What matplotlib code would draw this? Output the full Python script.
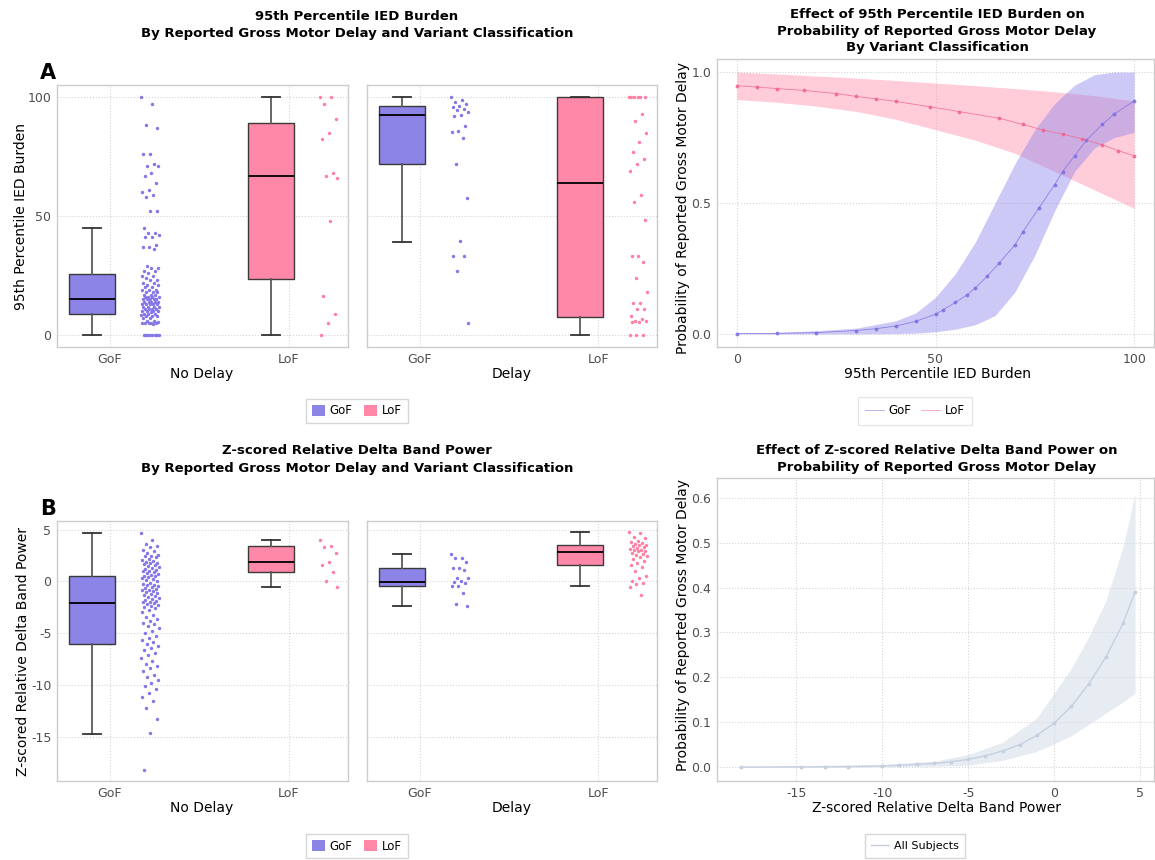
import numpy as np
import matplotlib
matplotlib.use("Agg")
import matplotlib.pyplot as plt
from matplotlib.patches import Patch
from matplotlib.lines import Line2D

W, H = 1155, 860

# ---------------- data ----------------
variants = ["GoF", "LoF"]
delay_groups = ["No Delay", "Delay"]

# box stats: [low whisker, q1, median, q3, high whisker]
ied_box_nodelay_gof = [0, 9, 15, 25.6, 45]
ied_box_nodelay_lof = [0, 23.7, 67, 89, 100]
ied_box_delay_gof = [39.2, 72, 92.4, 96.1, 100]
ied_box_delay_lof = [0, 7.7, 64, 100, 100]

delta_box_nodelay_gof = [-14.75, -6.03, -2.04, 0.53, 4.65]
delta_box_nodelay_lof = [-0.5, 0.88, 1.88, 3.39, 3.97]
delta_box_delay_gof = [-2.37, -0.4, -0.05, 1.34, 2.69]
delta_box_delay_lof = [-0.4, 1.62, 2.88, 3.49, 4.74]

# individual subjects
ied_nodelay_gof = [100, 97, 88, 87, 76, 76, 72, 71, 71, 68, 67, 64, 61, 60, 59, 58, 52, 52,
                   45, 43, 43, 42, 41, 41, 38, 37, 37, 36, 29, 28, 28, 27, 27, 26, 25, 25,
                   24, 23, 23, 22, 22, 21, 21, 20, 20, 19, 19, 19, 18, 18, 18, 17, 17, 17,
                   16, 16, 16, 16, 15, 15, 15, 15, 15, 14, 14, 14, 14, 14, 13, 13, 13, 13,
                   13, 12, 12, 12, 12, 11, 11, 11, 11, 10, 10, 10, 10, 9.5, 9, 9, 9, 8.5,
                   8, 8, 8, 7, 7, 6, 6, 5.5, 5, 5, 5, 5, 5, 4.5, 0, 0, 0, 0, 0, 0, 0, 0, 0, 0]
ied_nodelay_lof = [100, 100, 97, 90.7, 85, 82.3, 68, 66.6, 65.9, 48, 16.3, 9, 5, 0]
ied_delay_gof = [100, 98.6, 97.8, 97.2, 96.3, 95.8, 94.9, 94.4, 93.5, 92.6, 92.1, 87.6,
                 85.8, 85.1, 82.6, 71.9, 57.6, 39.3, 33.4, 33.2, 26.9, 5.2]
ied_delay_lof = [100, 100, 100, 100, 100, 100, 93, 90, 85, 81, 77, 74, 72, 69, 59, 56,
                 48.5, 33, 33, 30.6, 24, 18, 13.3, 13.3, 11, 11, 8, 6.6, 6, 6, 5.6, 5.5, 0, 0, 0]

delta_nodelay_gof = [4.65, 4.0, 3.6, 3.4, 3.3, 3.0, 2.9, 2.8, 2.6, 2.5, 2.5, 2.4, 2.2, 2.1,
                     2.0, 1.9, 1.8, 1.8, 1.7, 1.6, 1.5, 1.4, 1.3, 1.2, 1.1, 1.0, 1.0, 0.9,
                     0.8, 0.7, 0.6, 0.5, 0.5, 0.4, 0.3, 0.2, 0.1, 0.0, -0.1, -0.2, -0.3,
                     -0.3, -0.4, -0.5, -0.6, -0.7, -0.8, -0.8, -0.9, -1.0, -1.1, -1.2, -1.3,
                     -1.4, -1.5, -1.6, -1.7, -1.8, -1.9, -2.0, -2.0, -2.1, -2.2, -2.3, -2.4,
                     -2.5, -2.6, -2.8, -3.0, -3.2, -3.4, -3.6, -3.8, -4.0, -4.1, -4.3, -4.5,
                     -4.8, -5.0, -5.3, -5.5, -5.7, -5.9, -6.0, -6.2, -6.4, -6.6, -6.9, -7.1,
                     -7.4, -7.7, -8.0, -8.2, -8.4, -8.7, -9.0, -9.2, -9.5, -9.8, -10.1,
                     -10.4, -10.8, -11.2, -11.6, -12.2, -13.3, -14.7, -18.2]
delta_nodelay_lof = [4.04, 3.42, 3.3, 2.78, 1.88, 1.62, 0.92, 0.05, -0.53]
delta_delay_gof = [2.69, 2.3, 2.28, 1.9, 1.35, 1.3, 1.15, 0.35, 0.3, 0.0, -0.05, -0.1,
                   -0.4, -0.45, -1.15, -2.15, -2.35]
delta_delay_lof = [4.74, 4.7, 4.3, 4.2, 3.9, 3.8, 3.7, 3.6, 3.5, 3.5, 3.4, 3.3, 3.2, 3.1,
                   3.0, 3.0, 2.9, 2.9, 2.8, 2.7, 2.6, 2.5, 2.4, 2.2, 2.0, 1.8, 1.6, 1.4,
                   1.0, 0.5, 0.3, 0.0, -0.1, -0.2, -0.5, -1.35]

# fitted probability curves
ied_gof_x = [0, 10, 20, 30, 35, 40, 45, 50, 52, 55, 58, 60, 63, 66, 70, 72, 76, 80, 82,
             85, 88, 92, 95, 100]
ied_gof_p = [0.001, 0.002, 0.005, 0.013, 0.02, 0.03, 0.048, 0.075, 0.093, 0.12, 0.15,
             0.175, 0.22, 0.27, 0.34, 0.39, 0.48, 0.57, 0.62, 0.68, 0.74, 0.80, 0.84, 0.89]
ied_gof_band_x = [0, 10, 20, 30, 40, 45, 50, 55, 60, 65, 70, 75, 80, 85, 90, 95, 100]
ied_gof_lo = [0, 0, 0, 0, 0.001, 0.003, 0.008, 0.018, 0.035, 0.07, 0.16, 0.30, 0.47,
              0.62, 0.71, 0.75, 0.77]
ied_gof_hi = [0.003, 0.006, 0.012, 0.022, 0.05, 0.08, 0.14, 0.23, 0.35, 0.50, 0.65, 0.78,
              0.88, 0.95, 0.99, 1.0, 1.0]

ied_lof_x = [0, 5, 10, 17, 25, 30, 35, 40, 48.5, 56, 66, 72, 77, 82, 87, 92, 96, 100]
ied_lof_p = [0.948, 0.943, 0.937, 0.93, 0.918, 0.907, 0.898, 0.888, 0.868, 0.849, 0.824,
             0.80, 0.779, 0.763, 0.745, 0.722, 0.70, 0.68]
ied_lof_band_x = [0, 10, 20, 30, 40, 50, 60, 70, 80, 90, 100]
ied_lof_lo = [0.895, 0.885, 0.87, 0.85, 0.82, 0.78, 0.74, 0.69, 0.62, 0.55, 0.48]
ied_lof_hi = [1.0, 0.993, 0.985, 0.977, 0.968, 0.958, 0.948, 0.937, 0.925, 0.91, 0.89]

delta_x = [-18.2, -14.7, -13.3, -12, -10, -9, -8, -7, -6, -5, -4, -3, -2, -1, 0, 1, 2,
           3, 4, 4.7]
delta_p = [0.0001, 0.0004, 0.0007, 0.001, 0.0025, 0.004, 0.006, 0.008, 0.012, 0.017,
           0.025, 0.036, 0.05, 0.071, 0.098, 0.135, 0.185, 0.245, 0.32, 0.39]
delta_band_x = [-18.2, -10, -7, -5, -3, -1, 0, 1, 2, 3, 4, 4.7]
delta_lo = [0, 0.0005, 0.002, 0.004, 0.015, 0.035, 0.052, 0.07, 0.095, 0.12, 0.145, 0.165]
delta_hi = [0.001, 0.006, 0.013, 0.028, 0.055, 0.11, 0.165, 0.22, 0.29, 0.37, 0.49, 0.61]

# ---------------- style ----------------
GOF_FILL = "#8C84E6"
LOF_FILL = "#FF88A8"
GOF_PT = "#8478E8"
LOF_PT = "#FF7FA2"
GOF_LINE = "#7B6FE0"
LOF_LINE = "#F0668C"
ALL_LINE = "#C5D0E0"
BORDER = "#CCCCCC"
TICKC = "#4D4D4D"

plt.rcParams["font.family"] = ["DejaVu Sans"]
plt.rcParams["axes.unicode_minus"] = False

fig = plt.figure(figsize=(W / 100, H / 100), dpi=100)


def add_ax(l, t, r, b):
    return fig.add_axes([l / W, 1 - b / H, (r - l) / W, (b - t) / H])


def ftext(x, y, s, **kw):
    fig.text(x / W, 1 - y / H, s, ha=kw.pop("ha", "center"), va=kw.pop("va", "center"), **kw)


def style(ax):
    for sp in ax.spines.values():
        sp.set_color(BORDER)
        sp.set_linewidth(1)
    ax.grid(True, ls=":", color="#D4D4D4", lw=0.8)
    ax.set_axisbelow(True)
    ax.tick_params(length=0, labelsize=9, labelcolor=TICKC, pad=4)


def jitter(n, width=0.05):
    return ((np.arange(n) * 0.618034) % 1 - 0.5) * 2 * width


def box_panel(ax, boxes, points, ylim, yticks, show_y):
    style(ax)
    for i, (stats, pts, fill, pc) in enumerate(zip(boxes, points, [GOF_FILL, LOF_FILL],
                                                     [GOF_PT, LOF_PT])):
        st = dict(whislo=stats[0], q1=stats[1], med=stats[2], q3=stats[3], whishi=stats[4])
        ax.bxp([st], positions=[i - 0.1], widths=0.26, showfliers=False, patch_artist=True,
               boxprops=dict(facecolor=fill, edgecolor="#3A3A3A", lw=1.0),
               medianprops=dict(color="black", lw=1.3),
               whiskerprops=dict(color="#5A5A5A", lw=1.3),
               capprops=dict(color="#333333", lw=1.3), capwidths=0.1)
        ax.scatter(i + 0.225 + jitter(len(pts)), pts, s=6, color=pc, lw=0, zorder=3)
    ax.set_xlim(-0.296, 1.33)
    ax.set_ylim(*ylim)
    ax.set_xticks([0, 1])
    ax.set_xticklabels(variants)
    ax.set_yticks(yticks)
    if not show_y:
        ax.tick_params(axis="y", labelleft=False)


# ---------------- top-left: IED burden boxes ----------------
ax1 = add_ax(57, 85, 348, 347)
box_panel(ax1, [ied_box_nodelay_gof, ied_box_nodelay_lof], [ied_nodelay_gof, ied_nodelay_lof],
          (-5, 105), [0, 50, 100], True)
ax2 = add_ax(367, 85, 657, 347)
box_panel(ax2, [ied_box_delay_gof, ied_box_delay_lof], [ied_delay_gof, ied_delay_lof],
          (-5, 105), [0, 50, 100], False)

ftext(357, 16, "95th Percentile IED Burden", fontsize=9.5, fontweight="bold")
ftext(357, 33, "By Reported Gross Motor Delay and Variant Classification", fontsize=9.5,
      fontweight="bold")
ftext(48, 73, "A", fontsize=15, fontweight="bold")
ftext(21, 217, "95th Percentile IED Burden", fontsize=10, rotation=90)
ftext(202, 374, delay_groups[0], fontsize=10)
ftext(512, 374, delay_groups[1], fontsize=10)

patches = [Patch(facecolor=GOF_FILL, label="GoF"), Patch(facecolor=LOF_FILL, label="LoF")]
leg_kw = dict(ncol=2, fontsize=8.5, frameon=True, fancybox=False, edgecolor=BORDER,
              handlelength=1.1, handleheight=1.1, handletextpad=0.4, columnspacing=1.0,
              borderpad=0.5, loc="center")
lg = fig.legend(handles=patches, bbox_to_anchor=(357 / W, 1 - 411 / H), **leg_kw)
lg.get_frame().set_linewidth(1)

# ---------------- bottom-left: delta power boxes ----------------
ax3 = add_ax(57, 521, 348, 781)
box_panel(ax3, [delta_box_nodelay_gof, delta_box_nodelay_lof],
          [delta_nodelay_gof, delta_nodelay_lof], (-19.3, 5.85), [-15, -10, -5, 0, 5], True)
ax4 = add_ax(367, 521, 657, 781)
box_panel(ax4, [delta_box_delay_gof, delta_box_delay_lof], [delta_delay_gof, delta_delay_lof],
          (-19.3, 5.85), [-15, -10, -5, 0, 5], False)

ftext(357, 451, "Z-scored Relative Delta Band Power", fontsize=9.5, fontweight="bold")
ftext(357, 468, "By Reported Gross Motor Delay and Variant Classification", fontsize=9.5,
      fontweight="bold")
ftext(48, 509, "B", fontsize=15, fontweight="bold")
ftext(23, 651, "Z-scored Relative Delta Band Power", fontsize=10, rotation=90)
ftext(202, 808, delay_groups[0], fontsize=10)
ftext(512, 808, delay_groups[1], fontsize=10)
lg = fig.legend(handles=patches, bbox_to_anchor=(357 / W, 1 - 846 / H), **leg_kw)
lg.get_frame().set_linewidth(1)

# ---------------- top-right: IED probability curves ----------------
ax5 = add_ax(717, 59, 1154, 347)
style(ax5)
ax5.fill_between(ied_lof_band_x, ied_lof_lo, ied_lof_hi, color="#FF8FAE", alpha=0.45, lw=0)
ax5.fill_between(ied_gof_band_x, ied_gof_lo, ied_gof_hi, color="#8A80EE", alpha=0.42, lw=0)
ax5.plot(ied_gof_x, ied_gof_p, color=GOF_LINE, lw=0.6, marker="o", ms=1.8, alpha=0.8)
ax5.plot(ied_lof_x, ied_lof_p, color=LOF_LINE, lw=0.6, marker="o", ms=1.8, alpha=0.8)
ax5.set_xlim(-5, 105)
ax5.set_ylim(-0.05, 1.05)
ax5.set_xticks([0, 50, 100])
ax5.set_yticks([0, 0.5, 1.0])
ax5.set_yticklabels(["0.0", "0.5", "1.0"])
ftext(937, 15, "Effect of 95th Percentile IED Burden on", fontsize=9.5, fontweight="bold")
ftext(937, 32, "Probability of Reported Gross Motor Delay", fontsize=9.5, fontweight="bold")
ftext(937, 48, "By Variant Classification", fontsize=9.5, fontweight="bold")
ftext(683, 208, "Probability of Reported Gross Motor Delay", fontsize=10, rotation=90)
ftext(937, 374, "95th Percentile IED Burden", fontsize=10)
lines = [Line2D([], [], color=GOF_LINE, lw=0.6, alpha=0.6, label="GoF"),
         Line2D([], [], color=LOF_LINE, lw=0.6, alpha=0.6, label="LoF")]
lg = fig.legend(handles=lines, ncol=2, fontsize=8.5, frameon=True, fancybox=False,
                edgecolor="#E0E0E0", handlelength=1.6, handletextpad=0.4, columnspacing=0.8,
                borderpad=0.6, loc="center", bbox_to_anchor=(915 / W, 1 - 411 / H))

# ---------------- bottom-right: delta probability curve ----------------
ax6 = add_ax(717, 478, 1154, 781)
style(ax6)
ax6.fill_between(delta_band_x, delta_lo, delta_hi, color="#D5DDE8", alpha=0.55, lw=0)
ax6.plot(delta_x, delta_p, color=ALL_LINE, lw=1.0, marker="o", ms=1.8)
ax6.set_xlim(-19.6, 5.8)
ax6.set_ylim(-0.031, 0.644)
ax6.set_xticks([-15, -10, -5, 0, 5])
ax6.set_yticks([0, 0.1, 0.2, 0.3, 0.4, 0.5, 0.6])
ax6.set_yticklabels(["0.0", "0.1", "0.2", "0.3", "0.4", "0.5", "0.6"])
ftext(937, 451, "Effect of Z-scored Relative Delta Band Power on", fontsize=9.5,
      fontweight="bold")
ftext(937, 467, "Probability of Reported Gross Motor Delay", fontsize=9.5, fontweight="bold")
ftext(683, 625, "Probability of Reported Gross Motor Delay", fontsize=10, rotation=90)
ftext(937, 808, "Z-scored Relative Delta Band Power", fontsize=10)
lg = fig.legend(handles=[Line2D([], [], color=ALL_LINE, lw=1, label="All Subjects")],
                fontsize=8, frameon=True, fancybox=False, edgecolor=BORDER, handlelength=1.6,
                handletextpad=0.4, borderpad=0.6, loc="center",
                bbox_to_anchor=(915 / W, 1 - 846 / H))

fig.savefig("out.png", dpi=100)
